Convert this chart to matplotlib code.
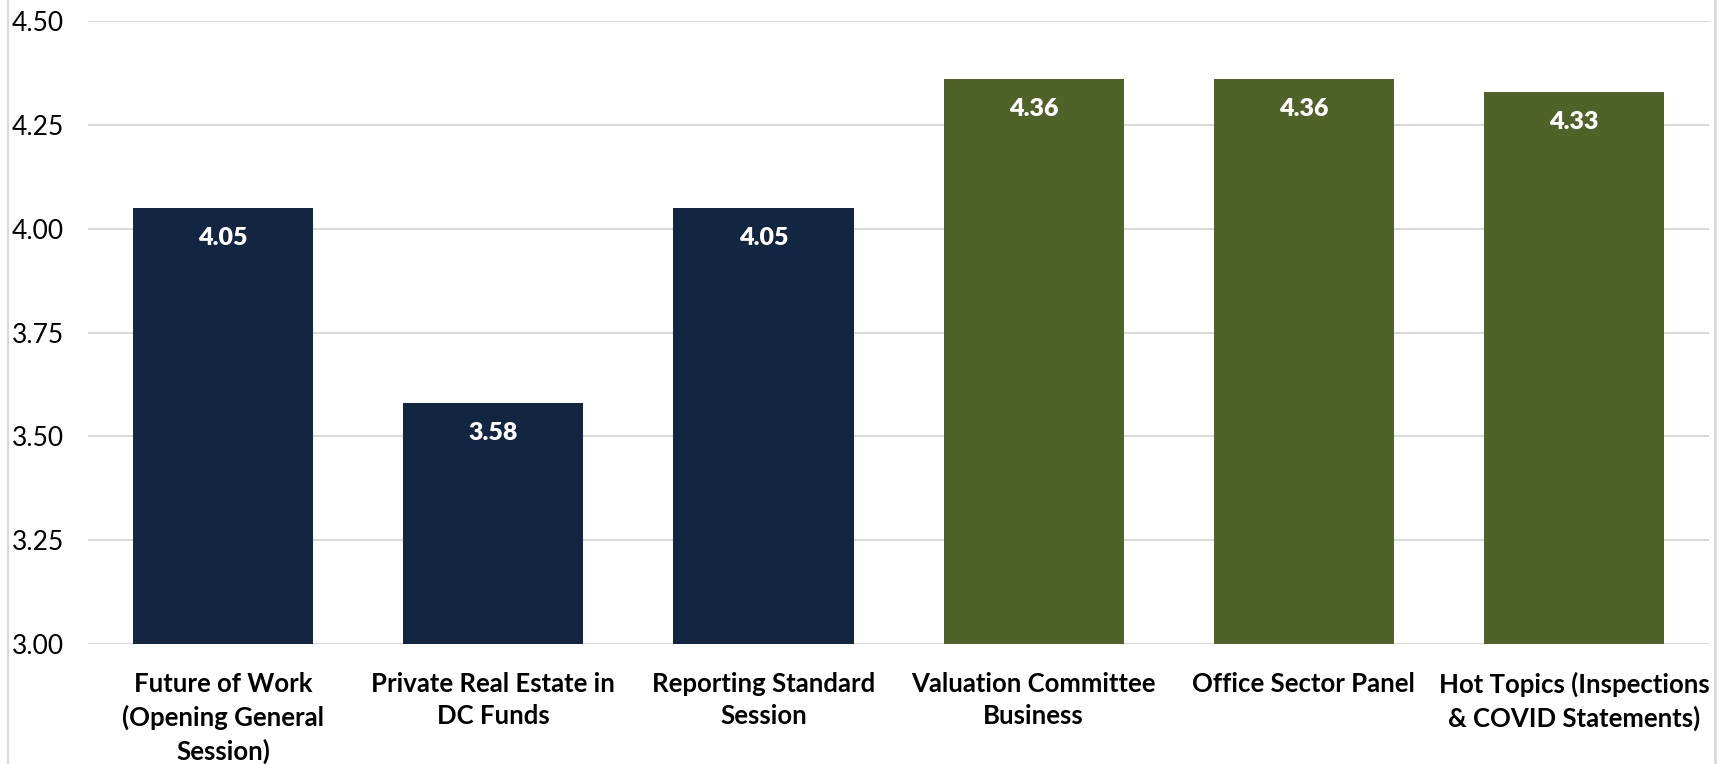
import numpy as np
import matplotlib
matplotlib.use('Agg')
import matplotlib.pyplot as plt
from matplotlib.lines import Line2D

# Chart data
sessions = ['Future of Work\n(Opening General\nSession)',
            'Private Real Estate in\nDC Funds',
            'Reporting Standard\nSession',
            'Valuation Committee\nBusiness',
            'Office Sector Panel',
            'Hot Topics (Inspections\n& COVID Statements)']
scores = [4.05, 3.58, 4.05, 4.36, 4.36, 4.33]
bar_colors = ['#132641', '#132641', '#132641', '#4F6228', '#4F6228', '#4F6228']
y_ticks = [3.00, 3.25, 3.50, 3.75, 4.00, 4.25, 4.50]

plt.rcParams['font.family'] = ['Lato', 'DejaVu Sans']

fig = plt.figure(figsize=(17.23, 7.64), dpi=100)
ax = fig.add_axes([0.051, 0.157, 0.941, 0.8155])

x = np.arange(len(sessions))
bars = ax.bar(x, scores, width=0.667, color=bar_colors, zorder=3)

for xi, v in zip(x, scores):
    ax.annotate('%.2f' % v, (xi, v), xytext=(0, -30), textcoords='offset pixels',
                ha='center', va='center', color='white', fontweight='heavy',
                fontsize=18, zorder=4)

ax.set_ylim(3.0, 4.5)
ax.set_xlim(-0.5, len(sessions) - 0.5)
ax.set_yticks(y_ticks)
ax.set_yticklabels(['%.2f' % t for t in y_ticks])
ax.yaxis.grid(True, color='#D9D9D9', linewidth=1.5, zorder=0)
ax.set_xticks(x)
ax.set_xticklabels(sessions, fontweight='bold', fontsize=18.5, linespacing=1.42)
ax.tick_params(axis='x', length=0, pad=20)
ax.tick_params(axis='y', length=0, pad=55, labelsize=19)
for lbl in ax.get_yticklabels():
    lbl.set_horizontalalignment('left')
for s in ax.spines.values():
    s.set_visible(False)

# outer chart frame edges
fig.add_artist(Line2D([8 / 1723, 8 / 1723], [0, 1], color='#D9D9D9', lw=1.5))
fig.add_artist(Line2D([1715 / 1723, 1715 / 1723], [0, 1], color='#D9D9D9', lw=2))

fig.savefig('out.png', dpi=100)
